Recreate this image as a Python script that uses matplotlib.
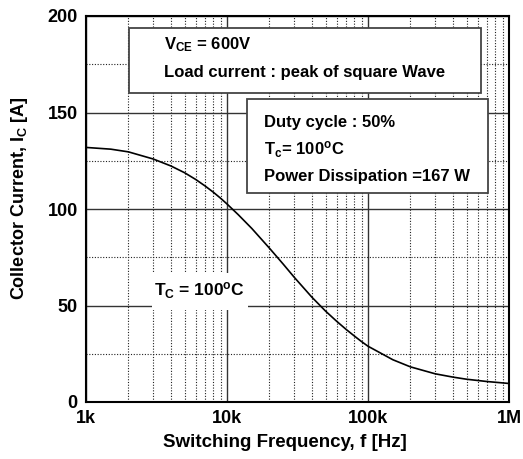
import matplotlib
matplotlib.use("Agg")
import matplotlib.pyplot as plt
from matplotlib.ticker import FixedLocator, NullFormatter
from matplotlib.patches import Rectangle

plt.rcParams['font.family'] = ['Liberation Sans', 'DejaVu Sans']
plt.rcParams['font.weight'] = 'bold'
plt.rcParams['mathtext.fontset'] = 'custom'
plt.rcParams['mathtext.rm'] = 'Liberation Sans:bold'
plt.rcParams['mathtext.it'] = 'Liberation Sans:bold'
plt.rcParams['mathtext.bf'] = 'Liberation Sans:bold'
plt.rcParams['mathtext.default'] = 'regular'

# Data (frequency in kHz, collector current in A)
freq_khz = [1, 1.5, 2, 3, 4, 5, 6, 7, 8, 9, 10, 12, 15, 20, 25, 30, 40, 50, 60, 70, 80, 90,
            100, 150, 200, 300, 400, 500, 700, 1000]
current = [131.9, 131.0, 129.6, 125.9, 122.3, 118.8, 115.3, 111.9, 108.7, 105.6,
           102.6, 97.1, 89.9, 79.7, 71.5, 64.6, 54.3, 47.1, 41.8, 37.6, 34.2, 31.3,
           28.9, 21.9, 18.2, 14.6, 12.9, 11.8, 10.6, 9.6]
freq = [f * 1000 for f in freq_khz]

x_ticks = [1e3, 1e4, 1e5, 1e6]
x_tick_labels = ['1k', '10k', '100k', '1M']
y_ticks = [0, 50, 100, 150, 200]
y_minor = [25, 75, 125, 175]

W, H = 523, 459
fig = plt.figure(figsize=(W / 100, H / 100), dpi=100)
ax = fig.add_axes([86 / W, (H - 402) / H, 423 / W, 386 / H])

ax.set_xscale('log')
ax.set_xlim(1e3, 1e6)
ax.set_ylim(0, 200)

x_minor = [m * d for d in (1e3, 1e4, 1e5) for m in range(2, 10)]
ax.xaxis.set_major_locator(FixedLocator(x_ticks))
ax.xaxis.set_minor_locator(FixedLocator(x_minor))
ax.xaxis.set_minor_formatter(NullFormatter())
ax.set_xticklabels(x_tick_labels)
ax.set_yticks(y_ticks)
ax.yaxis.set_minor_locator(FixedLocator(y_minor))

ax.grid(which='major', color='#333333', linestyle='-', linewidth=1.0)
ax.grid(which='minor', color='#222222', linestyle=(0, (1, 1.5)), linewidth=0.8)
ax.tick_params(which='both', length=0)
ax.tick_params(axis='x', labelsize=13, pad=6)
ax.tick_params(axis='y', labelsize=13, pad=6)
for lab in ax.get_xticklabels() + ax.get_yticklabels():
    lab.set_fontweight('bold')
for s in ax.spines.values():
    s.set_linewidth(1.5)
    s.set_color('black')

ax.plot(freq, current, color='black', linewidth=1.2, zorder=3)

ax.set_xlabel('Switching Frequency, f [Hz]', fontsize=13.5, fontweight='bold')
ax.set_ylabel('Collector Current, I$_{C}$ [A]', fontsize=13, fontweight='bold')
ax.xaxis.set_label_coords((284.5 - 86) / 423, -(434 - 402) / 386)
ax.yaxis.set_label_coords(-(86 - 30) / 423, (402 - 198) / 386)


def px(x, y):
    return ((x - 86) / 423, (402 - y) / 386)


# Box 1
x0, y0 = px(129, 93)
x1, y1 = px(481, 28)
ax.add_patch(Rectangle((x0, y0), x1 - x0, y1 - y0, transform=ax.transAxes,
                       facecolor='white', edgecolor='#444444', linewidth=1.3, zorder=4))
ax.text(*px(164, 45), 'V$_{CE}$ = 600V', transform=ax.transAxes, fontsize=12,
        fontweight='bold', va='center', ha='left', zorder=5)
ax.text(*px(164, 72), 'Load current : peak of square Wave', transform=ax.transAxes,
        fontsize=12, fontweight='bold', va='center', ha='left', zorder=5)

# Box 2
x0, y0 = px(247, 193)
x1, y1 = px(488, 99)
ax.add_patch(Rectangle((x0, y0), x1 - x0, y1 - y0, transform=ax.transAxes,
                       facecolor='white', edgecolor='#444444', linewidth=1.3, zorder=4))
ax.text(*px(264, 123), 'Duty cycle : 50%', transform=ax.transAxes, fontsize=12,
        fontweight='bold', va='center', ha='left', zorder=5)
ax.text(*px(264, 150), 'T$_{c}$= 100$^{o}$C', transform=ax.transAxes, fontsize=12,
        fontweight='bold', va='center', ha='left', zorder=5)
ax.text(*px(264, 177), 'Power Dissipation =167 W', transform=ax.transAxes, fontsize=12,
        fontweight='bold', va='center', ha='left', zorder=5)

# T_C label with white background
x0, y0 = px(152, 310)
x1, y1 = px(248, 273)
ax.add_patch(Rectangle((x0, y0), x1 - x0, y1 - y0, transform=ax.transAxes,
                       facecolor='white', edgecolor='none', zorder=2.5))
ax.text(*px(199, 291), 'T$_{C}$ = 100$^{o}$C', transform=ax.transAxes, fontsize=12.5,
        fontweight='bold', va='center', ha='center', zorder=5)

fig.savefig('out.png', dpi=100)
